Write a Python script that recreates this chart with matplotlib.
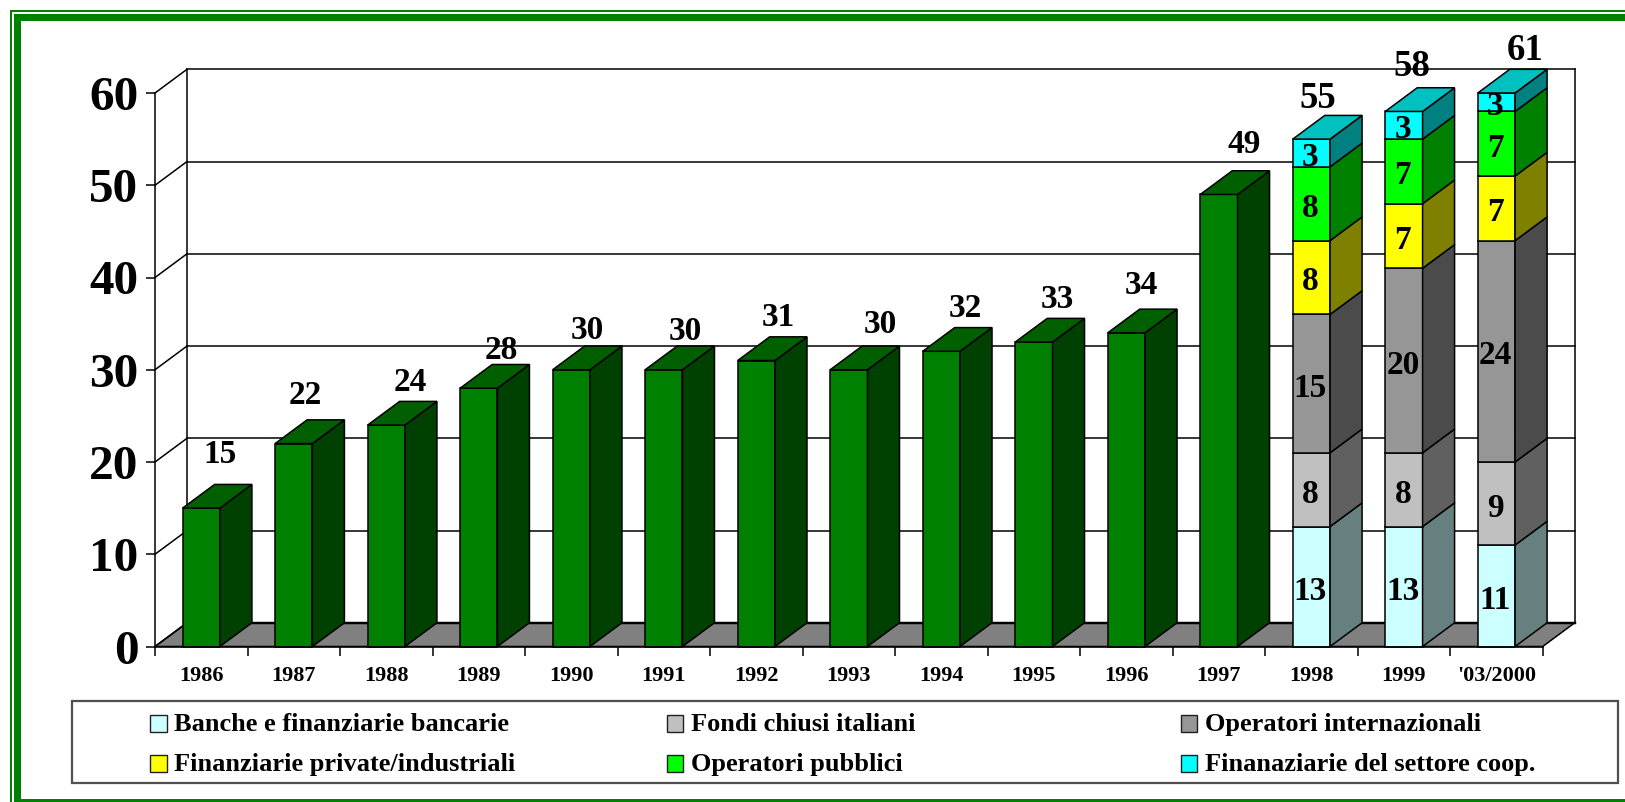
import numpy as np
import matplotlib
matplotlib.use("Agg")
import matplotlib.pyplot as plt
from matplotlib.patches import Polygon, Rectangle

plt.rcParams['font.family'] = ['Liberation Serif', 'DejaVu Serif']
plt.rcParams['font.weight'] = 'bold'

# ---- data ----
years = ['1986', '1987', '1988', '1989', '1990', '1991', '1992', '1993', '1994',
         '1995', '1996', '1997', '1998', '1999', "'03/2000"]
totals = [15, 22, 24, 28, 30, 30, 31, 30, 32, 33, 34, 49, 55, 58, 61]
banche = [13, 13, 11]
fondi = [8, 8, 9]
internazionali = [15, 20, 24]
private = [8, 7, 7]
pubblici = [8, 7, 7]
coop = [3, 3, 3]
series_names = ['Banche e finanziarie bancarie', 'Fondi chiusi italiani', 'Operatori internazionali',
                'Finanziarie private/industriali', 'Operatori pubblici', 'Finanaziarie del settore coop.']

# ---- styles ----
W, H = 1625, 802
YMAX = 60
AX_L, AX_R, AX_T, AX_B = 155, 1542.7, 93, 646.5
PX_X = (AX_R - AX_L) / 15
PX_Y = (AX_B - AX_T) / YMAX
DX, DY = 32 / PX_X, 23.7 / PX_Y
BAR_W = 37.3 / PX_X
GREEN = ('#008000', '#004000', '#006000')
STACK_COL = [('#CCFFFF', '#668080', '#99BFBF'), ('#C0C0C0', '#606060', '#909090'),
             ('#969696', '#4B4B4B', '#707070'), ('#FFFF00', '#808000', '#C0C000'),
             ('#00FF00', '#008000', '#00C000'), ('#00FFFF', '#008080', '#00C0C0')]
LW = 1.1
# nudges of the total labels from each bar's top centre, in pixels
lab_dx = [19, 11, 24, 23, 16, 21, 22, 31, 24, 23, 15, 25, 6, 8, 29]
lab_dy = [54, 48, 43, 38, 39, 38, 43, 45, 43, 43, 47.5, 50, 41, 45, 33.5]
lab_size = [24] * 12 + [26.5] * 3

fig = plt.figure(figsize=(W / 100, H / 100), dpi=100, facecolor='white')
ax = fig.add_axes([AX_L / W, 1 - AX_B / H, (AX_R - AX_L) / W, (AX_B - AX_T) / H])
ax.patch.set_alpha(0)
ax.set_xlim(0, 15)
ax.set_ylim(0, YMAX)
for s in ('top', 'right'):
    ax.spines[s].set_visible(False)
for s in ('left', 'bottom'):
    ax.spines[s].set_linewidth(LW)
    ax.spines[s].set_zorder(6)

ax.set_yticks(range(0, YMAX + 1, 10))
ax.tick_params(axis='y', length=6.5, width=LW, pad=5.5, labelsize=35.5)
ax.set_xticks(range(16))
ax.set_xticklabels([])
ax.set_xticks(np.arange(15) + 0.5, labels=years, minor=True)
ax.tick_params(axis='x', which='major', length=6.5, width=LW)
ax.tick_params(axis='x', which='minor', length=0, pad=14, labelsize=16)


def poly(pts, fc, z):
    ax.add_patch(Polygon(pts, closed=True, facecolor=fc, edgecolor='black', lw=LW,
                         zorder=z, clip_on=False, joinstyle='miter'))


# floor and back wall
poly([(0, 0), (15, 0), (15 + DX, DY), (DX, DY)], '#808080', 1)
ax.plot([DX, 15 + DX], [DY, DY], color='black', lw=LW * 1.6, zorder=1.5, clip_on=False)
for v in range(0, YMAX + 1, 10):
    ax.plot([0, DX], [v, v + DY], color='black', lw=LW, zorder=1, clip_on=False)
    if v:
        ax.plot([DX, 15 + DX], [v + DY, v + DY], color='black', lw=LW, zorder=1, clip_on=False)
ax.plot([DX, DX], [DY, YMAX + DY], color='black', lw=LW, zorder=1, clip_on=False)
ax.plot([15 + DX, 15 + DX], [DY, YMAX + DY], color='black', lw=LW, zorder=1, clip_on=False)


def box(i, lo, hi, cols, top):
    xc = i + 0.5
    x0, x1 = xc - BAR_W / 2, xc + BAR_W / 2
    z = 3 + i * 0.01
    ax.bar(xc, hi - lo, BAR_W, bottom=lo, color=cols[0], edgecolor='black', linewidth=LW,
           zorder=z, clip_on=False)
    poly([(x1, lo), (x1 + DX, lo + DY), (x1 + DX, hi + DY), (x1, hi)], cols[1], z)
    if top:
        poly([(x0, hi), (x1, hi), (x1 + DX, hi + DY), (x0 + DX, hi + DY)], cols[2], z)


stacks = [banche, fondi, internazionali, private, pubblici, coop]
n_plain = len(years) - len(banche)
for i in range(n_plain):
    box(i, 0, totals[i], GREEN, True)
for j in range(len(banche)):
    i = n_plain + j
    cum = 0
    for k, s in enumerate(stacks):
        lo, hi = min(cum, YMAX), min(cum + s[j], YMAX)
        box(i, lo, hi, STACK_COL[k], k == len(stacks) - 1)
        ax.annotate(str(s[j]), (i + 0.5, (lo + hi) / 2), xytext=(-1, -4.5), textcoords='offset pixels',
                    ha='center', va='center', fontsize=24, zorder=8, annotation_clip=False)
        cum += s[j]

for i, t in enumerate(totals):
    ax.annotate(str(t), (i + 0.5, t), xytext=(lab_dx[i], lab_dy[i]), textcoords='offset pixels',
                ha='center', va='center', fontsize=lab_size[i], zorder=9, annotation_clip=False)


# figure-level decoration, given in reference pixels
def rect(x0, y0, x1, y1, fc, ec='none', lw=0, z=0):
    fig.add_artist(Rectangle((x0 / W, 1 - y1 / H), (x1 - x0) / W, (y1 - y0) / H,
                             transform=fig.transFigure, facecolor=fc, edgecolor=ec,
                             linewidth=lw, zorder=z))


FRAME = '#008000'
rect(9.5, 9.5, 12, H, FRAME)
rect(9.5, 9.5, W, 12, FRAME)
rect(14, 14, 21, H, FRAME)
rect(14, 14, W, 21, FRAME)
rect(14, 799, W, H, FRAME)

# legend
rect(72.3, 701, 1617.7, 783, 'white', '#505050', 1.6, 1)
col_x = [150, 666.5, 1180.7]
row_y = [723.5, 763.5]
for k, name in enumerate(series_names):
    x, y = col_x[k % 3], row_y[k // 3]
    rect(x, y - 8.5, x + 16.5, y + 8.5, STACK_COL[k][0], '#202020', 1.0, 2)
    fig.text((x + 24.5) / W, 1 - (y + 1.0) / H, name, ha='left', va='center', fontsize=19, zorder=3)

fig.savefig('out.png', dpi=100)
